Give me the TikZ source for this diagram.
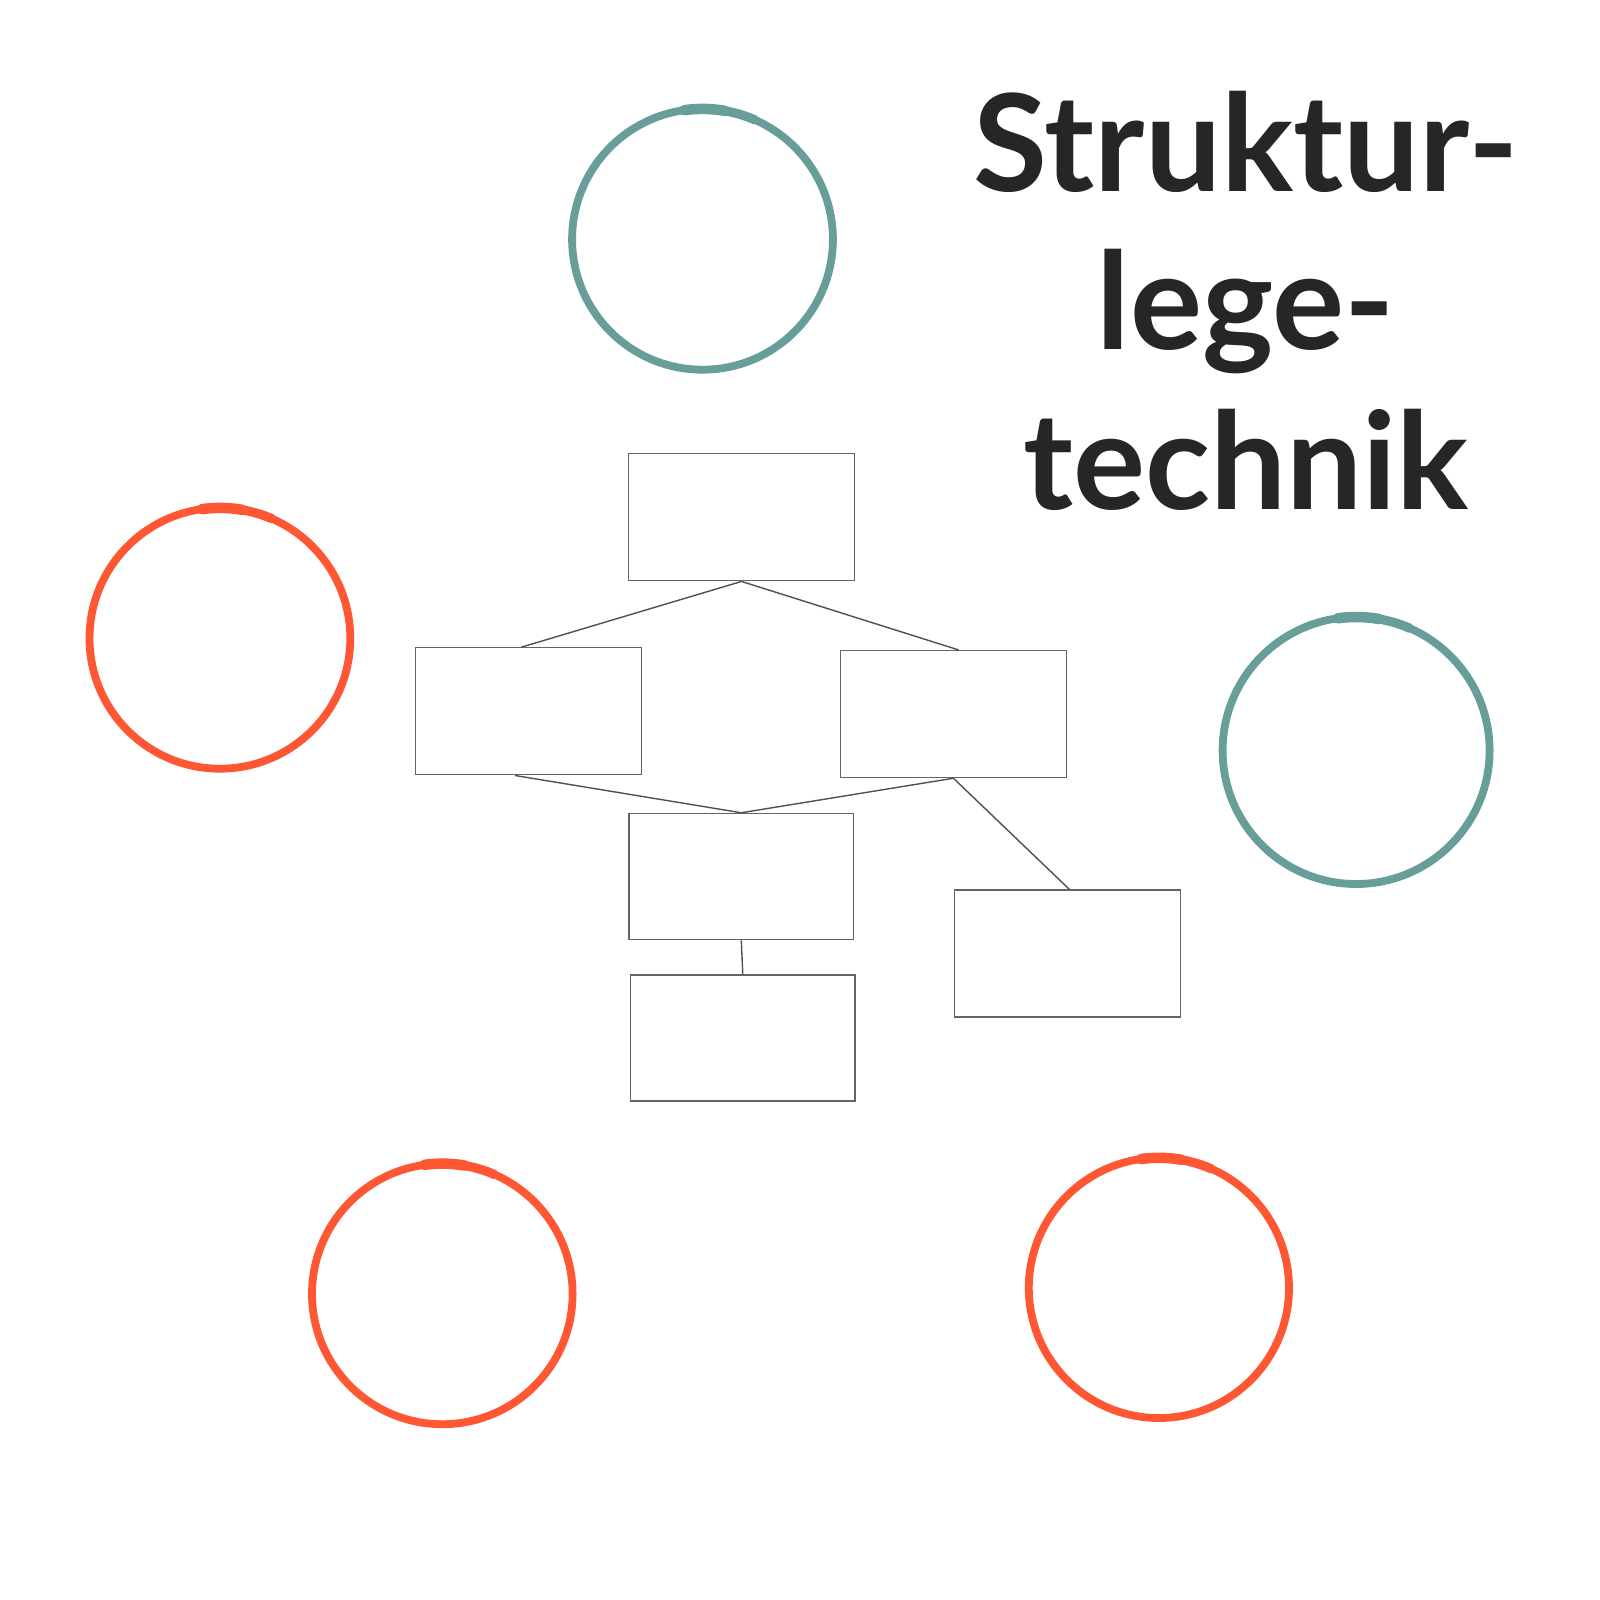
\documentclass[tikz,border=0pt]{standalone}
\usepackage{fontspec}
\setmainfont{Lato}
\usetikzlibrary{calc}
\definecolor{teal1}{RGB}{104,158,154}
\definecolor{orange1}{RGB}{255,87,51}
\definecolor{ink}{RGB}{38,38,38}
\definecolor{boxline}{RGB}{100,100,100}
\definecolor{linkline}{RGB}{80,80,80}
\begin{document}
\begin{tikzpicture}[x=1pt,y=-1pt,
  cardbox/.style={draw=boxline,line width=1.3pt,rectangle,inner sep=0pt,minimum width=226pt,minimum height=127pt},
  link/.style={draw=linkline,line width=1.4pt},
  ring/.style={line width=7.8pt},
  ringstart/.style={line width=10.5pt,line cap=round},
  titletext/.style={inner sep=0pt,anchor=base,text=ink,font=\fontsize{135}{158}\selectfont\bfseries}
]
\useasboundingbox[fill=white] (0,0) rectangle (1600,1600);

% rings
\foreach \cx/\cy/\r/\col [count=\i] in {702.5/239.3/130.4/teal1, 219.9/638.3/130.4/orange1, 1356.1/750.5/133.5/teal1, 442.3/1293.9/130.3/orange1, 1158.9/1287.9/130.1/orange1}{
  \coordinate (c\i) at (\cx,\cy);
  \draw[ring,\col] (c\i) circle[radius=\r];
  \draw[ringstart,\col] ($(c\i)+(-98:\r)$) arc[start angle=-98,end angle=-80,radius=\r];
  \draw[line width=9.2pt,\col] ($(c\i)+(-80:\r)$) arc[start angle=-80,end angle=-66,radius=\r];
}

% title
\node[titletext] (t1) at (1246,191.8) {Struktur-};
\node[titletext] (t2) at (1246,349) {lege-};
\node[titletext] (t3) at (1246,509) {technik};

% boxes
\node[cardbox] (T) at (741.5,517.3) {};
\node[cardbox] (L) at (528.7,711.3) {};
\node[cardbox] (R) at (953.4,714.1) {};
\node[cardbox,minimum width=224.6pt,minimum height=126.4pt] (M) at (741.3,876.6) {};
\node[cardbox,minimum width=224.4pt,minimum height=126pt] (B) at (742.8,1038) {};
\node[cardbox] (RL) at (1067.7,953.5) {};

% connectors
\draw[link] (T.south) -- ($(L.north)+(-7.3,0)$);
\draw[link] (T.south) -- ($(R.north)+(5.3,0)$);
\draw[link] ($(L.south)+(-13.9,0)$) -- (M.north);
\draw[link] (R.south) -- (M.north);
\draw[link] (R.south) -- ($(RL.north)+(1.7,0)$);
\draw[link] (M.south) -- (B.north);
\end{tikzpicture}
\end{document}
